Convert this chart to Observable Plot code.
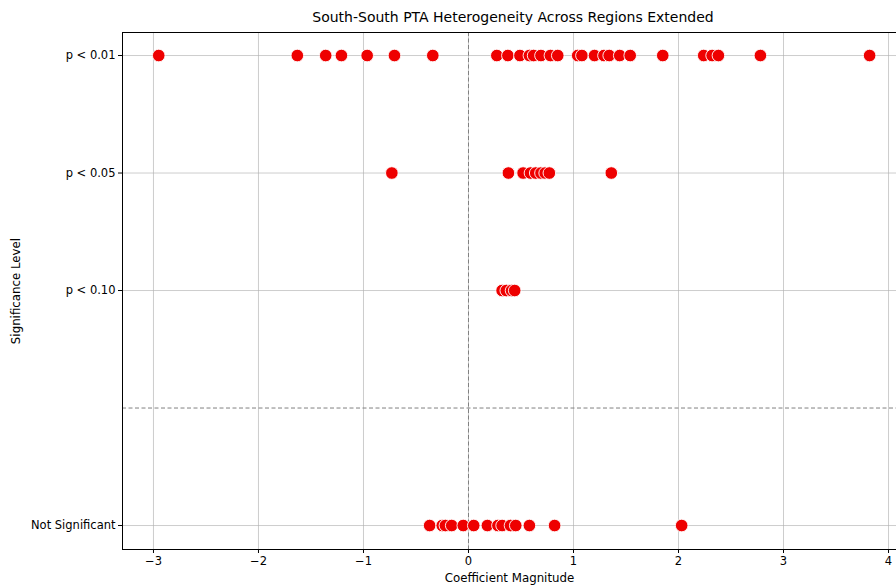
<!DOCTYPE html>
<html>
<head>
<meta charset="utf-8">
<script src="https://cdn.jsdelivr.net/npm/d3@7"></script>
<script src="https://cdn.jsdelivr.net/npm/@observablehq/plot@0.6"></script>
<style>
  html, body { margin: 0; padding: 0; background: #fff; overflow: hidden; }
  #wrap { width: 896px; height: 585px; position: relative; font-family: "DejaVu Sans", sans-serif; }
  #title { position: absolute; left: 122px; width: 782px; top: 9px; text-align: center; font-size: 14px; color: #000; line-height: 17px; }
  #chart { position: absolute; left: 0; top: 31px; }
</style>
</head>
<body>
<div id="wrap">
  <div id="title">South-South PTA Heterogeneity Across Regions Extended</div>
  <div id="chart"></div>
</div>
<script>
const levelLabels = ["p < 0.01", "p < 0.05", "p < 0.10", "Not Significant"];
const levelCodes = [3, 2, 1, -1];
const xTicks = [-3, -2, -1, 0, 1, 2, 3, 4];

const coefP001 = [-2.95, -1.63, -1.36, -1.21, -0.965, -0.705, -0.34, 0.27, 0.375, 0.49, 0.58, 0.62, 0.69, 0.78, 0.85, 1.04, 1.08, 1.2, 1.29, 1.34, 1.44, 1.54, 1.85, 2.24, 2.32, 2.38, 2.78, 3.82];
const coefP005 = [-0.73, 0.38, 0.52, 0.59, 0.64, 0.69, 0.73, 0.77, 1.36];
const coefP010 = [0.32, 0.36, 0.41, 0.44];
const coefNS = [-0.37, -0.25, -0.22, -0.16, -0.05, 0.05, 0.18, 0.28, 0.32, 0.4, 0.45, 0.58, 0.82, 2.03];

const groups = [coefP001, coefP005, coefP010, coefNS];
const data = groups.flatMap((arr, i) => arr.map(v => ({x: v, y: levelCodes[i]})));
const labelOf = new Map(levelCodes.map((c, i) => [c, levelLabels[i]]));

const fmt = d => d < 0 ? "\u2212" + Math.abs(d) : String(d);

const chart = Plot.plot({
  width: 896,
  height: 554,
  marginLeft: 122,
  marginRight: 0,
  marginTop: 1,
  marginBottom: 36,
  style: {fontFamily: "DejaVu Sans, sans-serif", fontSize: "11.5px", color: "#000", background: "#fff", overflow: "visible"},
  x: {domain: [-3.295, 4.076]},
  y: {domain: [-1.204, 3.196]},
  marks: [
    Plot.ruleX(xTicks, {stroke: "#b0b0b0", strokeWidth: 0.8, strokeOpacity: 0.8}),
    Plot.ruleY(levelCodes, {stroke: "#b0b0b0", strokeWidth: 0.8, strokeOpacity: 0.8}),
    Plot.ruleX([0], {stroke: "#808080", strokeWidth: 1, strokeDasharray: "4,2.5"}),
    Plot.ruleY([0], {stroke: "#808080", strokeWidth: 1, strokeDasharray: "4,2.5"}),
    Plot.dot(data, {x: "x", y: "y", r: 6.3, fill: "#ee0000", stroke: "white", strokeWidth: 0.9}),
    Plot.axisX({ticks: xTicks, tickFormat: fmt, tickSize: 4, tickPadding: 3, label: null, fontSize: 11.5}),
    Plot.axisY({ticks: levelCodes, tickFormat: d => labelOf.get(d), tickSize: 4, tickPadding: 3, label: null, fontSize: 11.5}),
    Plot.text(["Coefficient Magnitude"], {frameAnchor: "bottom", dy: 29, lineAnchor: "middle", textAnchor: "middle", fontSize: 11.8, fill: "#000"}),
    Plot.text(["Significance Level"], {frameAnchor: "left", dx: -106, rotate: -90, textAnchor: "middle", lineAnchor: "middle", fontSize: 11.8, fill: "#000"}),
    Plot.frame({stroke: "#000", strokeWidth: 1})
  ]
});
document.getElementById("chart").appendChild(chart);
</script>
</body>
</html>
